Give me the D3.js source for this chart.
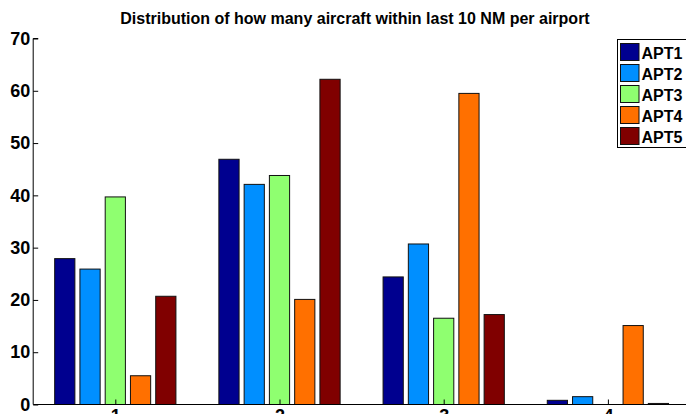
<!DOCTYPE html>
<html>
<head>
<meta charset="utf-8">
<script src="https://cdn.jsdelivr.net/npm/d3@7/dist/d3.min.js"></script>
<style>
  html, body { margin: 0; padding: 0; background: #fff; }
  svg { display: block; font-family: "Liberation Sans", Arial, Helvetica, sans-serif; }
</style>
</head>
<body>
<svg id="chart" width="686" height="414"></svg>
<script>
// Share of aircraft (%) within the last 10 NM, by count bin and airport
const categories = [1, 2, 3, 4];
const airports = ["APT1", "APT2", "APT3", "APT4", "APT5"];
const apt1 = [27.9, 46.9, 24.4, 0.8];
const apt2 = [25.9, 42.1, 30.7, 1.5];
const apt3 = [39.7, 43.8, 16.5, 0.0];
const apt4 = [5.5, 20.1, 59.5, 15.1];
const apt5 = [20.7, 62.2, 17.2, 0.2];
const yTicks = [0, 10, 20, 30, 40, 50, 60, 70];
const colors = ["#00008f", "#008fff", "#8fff70", "#ff7000", "#800000"];
const title = "Distribution of how many aircraft within last 10 NM per airport";

const series = [apt1, apt2, apt3, apt4, apt5];

const svg = d3.select("#chart");
const plotLeft = 33.2, unit = 164.2;
const plotTop = 38.5, plotBottom = 404.5;

const x = d3.scaleLinear().domain([0.5, 4.5]).range([plotLeft, plotLeft + 4 * unit]);
const y = d3.scaleLinear().domain([0, 70]).range([plotBottom, plotTop]);

// grouped bar layout: five bars per category
const groupWidth = 5 / 6.5 * unit;
const inner = d3.scaleBand().domain(airports)
  .range([-groupWidth / 2, groupWidth / 2]).paddingInner(0.2).paddingOuter(0.1);

const rows = [];
categories.forEach((c, ci) => {
  series.forEach((s, si) => rows.push({ c, a: airports[si], v: s[ci], color: colors[si] }));
});

svg.append("g").selectAll("rect").data(rows).join("rect")
  .attr("x", d => x(d.c) + inner(d.a))
  .attr("width", inner.bandwidth())
  .attr("y", d => y(d.v))
  .attr("height", d => y(0) - y(d.v))
  .attr("fill", d => d.color)
  .attr("stroke", "#111")
  .attr("stroke-width", 1);

// y axis, ticks pointing inward
const yAxis = svg.append("g").attr("transform", `translate(${plotLeft},0)`)
  .call(d3.axisRight(y).tickValues(yTicks).tickSize(5).tickFormat(d3.format("d")));
yAxis.select(".domain").attr("d", `M5,${plotTop}H0V${plotBottom}`);
yAxis.selectAll("text").attr("x", -3).attr("text-anchor", "end")
  .attr("font-size", 18).attr("font-weight", "bold").attr("fill", "#000");

// x axis, ticks pointing inward; labels sit just under the baseline
const xAxis = svg.append("g").attr("transform", `translate(0,${plotBottom})`)
  .call(d3.axisTop(x).tickValues(categories).tickSize(5).tickFormat(d3.format("d")));
xAxis.select(".domain").attr("d", `M${plotLeft},0H${plotLeft + 4 * unit}`);
xAxis.selectAll("text").attr("y", 5).attr("dy", "0.71em")
  .attr("font-size", 18).attr("font-weight", "bold").attr("fill", "#000");

svg.append("text")
  .attr("x", 355).attr("y", 24)
  .attr("text-anchor", "middle")
  .attr("font-size", 16).attr("font-weight", "bold")
  .text(title);

// legend
const lg = svg.append("g").attr("transform", "translate(617.5,39.5)");
lg.append("rect").attr("width", 70).attr("height", 108)
  .attr("fill", "#fff").attr("stroke", "#000").attr("stroke-width", 1);
const item = lg.selectAll("g.item").data(airports).join("g")
  .attr("class", "item")
  .attr("transform", (d, i) => `translate(3,${4 + i * 21})`);
item.append("rect").attr("width", 18.5).attr("height", 17)
  .attr("fill", (d, i) => colors[i]).attr("stroke", "#111");
item.append("text").attr("x", 21).attr("y", 15)
  .attr("font-size", 16).attr("font-weight", "bold")
  .text(d => d);
</script>
</body>
</html>
